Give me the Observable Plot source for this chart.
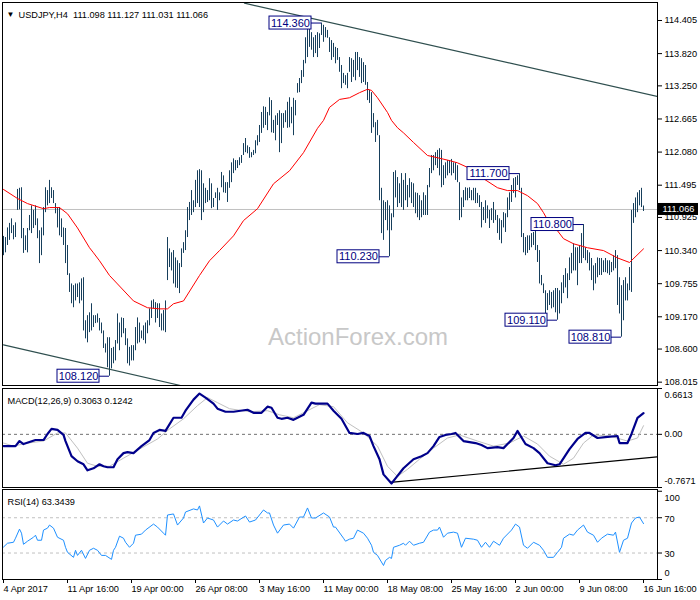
<!DOCTYPE html>
<html><head><meta charset="utf-8">
<script src="https://cdn.jsdelivr.net/npm/d3@7"></script>
<script src="https://cdn.jsdelivr.net/npm/@observablehq/plot@0.6"></script>
<style>
html,body{margin:0;padding:0;background:#fff;}
#chart{width:700px;height:600px;display:flex;flex-direction:column;overflow:hidden;}
#chart svg{display:block;flex:none;}
</style></head><body><div id="chart"></div>
<script>
// ---- data ----
const dateLabels = ["4 Apr 2017","11 Apr 16:00","19 Apr 00:00","26 Apr 08:00","3 May 16:00","11 May 00:00","18 May 08:00","25 May 16:00","2 Jun 00:00","9 Jun 08:00","16 Jun 16:00"];
const dateTickIdx = [0,32,64,96,128,160,192,224,256,288,320];
const priceTicks = [114.405,113.820,113.250,112.665,112.080,111.495,110.925,110.340,109.755,109.170,108.600,108.015];
const macdTicks = [0.6613,0,-0.7671];
const rsiTicks = [100,70,30,0];

const hi = [110.59,110.57,110.74,110.82,110.90,110.78,110.83,111.42,111.44,111.45,
110.73,110.60,110.73,110.96,111.13,111.05,111.13,110.90,110.69,110.74,
111.10,111.45,111.40,111.58,111.45,111.40,111.17,111.10,111.10,110.90,
110.74,110.73,110.43,109.93,109.75,109.72,109.75,109.75,109.77,109.84,
109.86,109.10,109.19,109.24,109.40,109.19,109.19,109.22,109.14,109.06,
108.92,108.69,108.80,108.80,108.61,108.63,108.75,109.22,109.06,109.15,
109.14,108.96,108.78,108.63,108.66,108.66,108.98,109.15,109.06,108.92,
109.01,109.06,109.10,109.31,109.45,109.47,109.42,109.40,109.40,109.22,
109.28,109.45,110.57,110.37,110.30,110.34,110.21,110.16,110.11,110.37,
110.48,110.69,111.10,111.19,111.40,111.22,111.58,111.75,111.77,111.75,
111.52,111.44,111.40,111.61,111.52,111.26,111.36,111.44,111.36,111.72,
111.66,111.54,111.54,111.75,111.89,111.96,111.93,111.93,111.98,112.02,
112.23,112.32,112.19,112.16,112.07,112.11,112.28,112.37,112.55,112.78,
112.88,112.87,112.78,113.04,112.99,112.64,112.72,112.76,112.81,112.76,
112.76,112.81,112.96,113.04,112.87,113.03,112.99,113.29,113.38,113.52,
113.70,114.10,114.32,114.32,114.19,114.10,114.14,114.19,114.17,114.36,
114.32,114.28,114.23,114.10,114.05,114.00,113.93,113.91,113.75,113.61,
113.47,113.43,113.47,113.75,113.73,113.70,113.84,113.84,113.75,113.73,
113.66,113.61,113.31,113.17,113.13,112.76,112.60,112.64,112.37,111.44,
111.22,111.19,111.22,111.13,110.99,111.72,111.75,111.63,111.52,111.70,
111.58,111.70,111.49,111.61,111.54,111.52,111.36,111.35,111.31,111.22,
111.36,111.31,111.49,111.79,112.02,112.02,112.07,112.11,112.14,112.11,
111.84,111.89,111.93,111.93,111.95,111.89,111.89,111.84,111.54,111.27,
111.40,111.45,111.44,111.45,111.40,111.44,111.44,111.35,111.31,111.19,
111.10,111.22,111.13,111.05,111.08,111.19,111.05,110.96,110.90,110.87,
111.01,110.99,111.27,111.36,111.49,111.61,111.63,111.66,111.70,111.44,
110.64,110.57,110.60,110.60,110.64,110.66,110.69,110.43,110.34,109.90,
109.75,109.63,109.58,109.63,109.60,109.63,109.67,109.67,109.63,109.77,
109.90,110.02,109.93,110.21,110.29,110.46,110.39,110.39,110.43,110.64,
110.80,110.39,110.34,110.30,110.20,110.07,110.11,110.21,110.20,110.20,
110.16,110.20,110.16,110.16,110.13,110.25,110.34,110.25,109.86,109.72,
109.81,109.86,109.75,110.04,111.05,111.17,111.27,111.36,111.40,111.44,
111.127];
const lo = [110.25,110.30,110.43,110.52,110.64,110.53,110.57,111.05,111.06,110.55,
110.29,110.34,110.30,110.69,110.64,110.73,110.78,110.55,110.11,110.25,
110.60,111.01,111.13,111.17,111.26,111.17,110.99,110.74,110.60,110.57,
110.43,110.11,109.90,109.60,109.40,109.33,109.45,109.51,109.40,109.45,
108.92,108.78,108.71,108.89,108.92,108.98,109.05,109.06,108.92,108.87,
108.61,108.53,108.27,108.12,108.25,108.34,108.39,108.69,108.57,108.80,
108.87,108.66,108.34,108.30,108.39,108.39,108.57,108.69,108.71,108.78,
108.75,108.69,108.87,109.01,109.14,109.31,109.06,109.14,108.98,108.92,
108.92,108.89,109.81,110.04,109.98,109.75,109.68,109.67,109.58,110.04,
110.29,110.34,110.57,110.87,110.96,111.01,111.10,111.17,111.10,110.87,
111.01,111.17,111.19,111.22,111.08,111.10,111.26,111.05,111.22,111.45,
111.36,111.35,111.19,111.44,111.54,111.70,111.75,111.79,111.84,111.88,
112.02,112.07,112.05,111.97,111.98,112.02,112.05,112.19,112.25,112.41,
112.50,112.55,112.46,112.72,112.42,112.41,112.28,112.55,112.07,112.23,
112.50,112.60,112.50,112.51,112.58,112.37,112.72,113.12,113.13,113.29,
113.40,113.64,113.75,113.93,113.88,113.75,113.82,113.75,113.91,114.14,
114.02,114.10,114.09,113.84,113.70,113.75,113.64,113.70,113.49,113.20,
113.29,113.26,113.20,113.49,113.31,113.40,113.34,113.52,113.40,113.29,
113.31,113.26,112.99,112.94,112.41,112.51,112.25,112.37,111.22,110.64,
110.52,110.87,110.69,110.23,110.69,110.92,111.27,111.10,111.17,111.10,
111.05,111.22,111.10,111.27,111.17,111.10,110.99,110.92,110.87,110.92,
110.96,110.96,110.96,111.45,111.70,111.75,111.84,111.79,111.66,111.45,
111.49,111.61,111.66,111.70,111.66,111.70,111.58,111.54,110.87,110.92,
111.10,111.22,111.22,111.26,111.22,111.22,111.17,111.17,111.10,110.74,
110.87,110.82,110.90,110.73,110.87,110.82,110.87,110.64,110.52,110.46,
110.74,110.66,110.92,111.05,111.19,111.35,111.27,111.49,111.40,110.57,
110.30,110.25,110.29,110.34,110.39,110.43,110.34,110.13,109.75,109.72,
109.58,109.22,109.28,109.37,109.31,109.33,109.24,109.11,109.22,109.40,
109.58,109.68,109.49,109.81,109.93,109.98,109.98,109.72,110.11,110.11,
110.20,110.16,110.11,109.98,109.81,109.63,109.75,109.86,109.90,109.90,
109.95,109.95,109.93,109.90,109.95,109.98,110.02,109.37,109.22,108.81,
109.10,109.45,109.45,109.63,109.60,110.82,110.92,111.01,111.13,111.10,
111.031];

const maIdx = [0,7,12,20,23,28,32,37,43,45,48,53,57,65,72,78,82,85,90,98,103,108,115,120,127,135,143,150,157,160,163,168,173,178,182,184,187,192,194,197,200,205,212,217,223,227,232,240,247,252,257,262,267,270,273,277,280,285,292,300,307,313,320];
const maVal = [111.42,111.26,111.17,111.08,111.10,111.10,110.99,110.74,110.39,110.30,110.16,109.90,109.75,109.45,109.33,109.31,109.31,109.40,109.45,109.90,110.16,110.34,110.60,110.87,111.08,111.52,111.75,112.07,112.50,112.64,112.87,113.01,113.04,113.13,113.19,113.17,113.04,112.78,112.64,112.51,112.42,112.25,112.02,111.98,111.93,111.89,111.81,111.61,111.45,111.40,111.40,111.31,111.17,111.01,110.82,110.69,110.55,110.46,110.39,110.34,110.21,110.13,110.37];

const macdIdx = [0,6,8,10,13,16,20,22,24,27,30,31,34,37,40,42,45,48,50,52,55,57,60,62,65,69,73,75,78,81,85,89,91,95,98,101,105,107,111,115,122,125,129,132,134,137,139,142,145,150,154,156,162,165,169,173,177,180,183,185,188,190,194,196,200,205,209,212,215,218,221,224,226,230,236,239,242,247,250,255,257,261,265,268,272,276,278,283,287,291,293,297,302,307,308,312,314,317,320];
const macdVal = [-0.170,-0.170,-0.097,-0.140,-0.111,-0.082,-0.082,0.005,0.078,0.064,-0.009,-0.097,-0.315,-0.388,-0.432,-0.519,-0.490,-0.432,-0.461,-0.475,-0.475,-0.359,-0.271,-0.257,-0.271,-0.170,-0.082,0.020,0.064,0.049,0.239,0.239,0.341,0.501,0.588,0.530,0.443,0.370,0.326,0.326,0.355,0.311,0.311,0.399,0.384,0.239,0.224,0.239,0.209,0.282,0.457,0.443,0.443,0.341,0.224,0.020,0.005,0.020,-0.024,-0.170,-0.359,-0.578,-0.709,-0.636,-0.490,-0.359,-0.315,-0.271,-0.170,-0.038,-0.009,0.005,0.020,-0.097,-0.126,-0.155,-0.199,-0.184,-0.199,-0.053,0.049,-0.140,-0.199,-0.271,-0.417,-0.446,-0.432,-0.213,-0.067,0.020,0.020,-0.053,-0.038,-0.024,-0.126,-0.126,0.005,0.239,0.3063];
const sigIdx = [0,5,12,20,27,31,37,42,47,53,60,68,77,83,90,97,102,107,113,123,132,138,145,152,158,165,172,180,187,192,197,202,208,215,222,228,237,245,253,260,267,273,280,285,290,295,303,312,317,320];
const sigVal = [-0.126,-0.170,-0.126,-0.097,0.020,0.020,-0.199,-0.417,-0.461,-0.461,-0.344,-0.213,-0.067,0.078,0.224,0.414,0.530,0.457,0.370,0.326,0.341,0.282,0.239,0.341,0.428,0.399,0.166,0.020,-0.170,-0.461,-0.607,-0.505,-0.359,-0.199,-0.053,-0.009,-0.097,-0.170,-0.126,-0.024,-0.140,-0.315,-0.432,-0.344,-0.126,-0.009,-0.024,-0.097,-0.053,0.1242];

const rsiIdx = [0,2,5,6,8,9,10,12,15,16,17,19,20,22,23,25,27,30,31,32,35,36,37,39,41,43,45,47,49,51,54,55,56,58,60,61,63,65,66,69,71,75,77,80,81,82,85,87,90,91,95,97,98,100,102,105,107,110,112,115,117,121,123,126,130,132,133,135,137,140,143,145,148,150,152,154,156,160,163,165,166,170,171,173,175,177,180,182,184,185,187,190,191,193,194,195,198,200,201,203,205,208,210,213,215,217,218,220,222,225,227,229,231,235,237,239,241,243,245,248,250,254,256,258,260,262,265,268,270,272,275,277,279,280,283,285,287,290,292,295,297,299,302,305,306,308,310,312,314,316,318,320];
const rsiVal = [36.8,41.1,42.2,46.8,57.1,52.5,39.9,43.4,47.9,50.2,44.5,44.5,56.0,58.2,61.7,58.2,47.9,44.5,36.5,30.8,25.1,33.1,27.3,33.1,23.9,33.1,35.4,33.1,27.3,27.3,22.8,33.1,36.5,49.1,46.8,42.2,36.5,41.1,50.2,51.4,56.0,62.8,59.4,52.5,50.2,73.1,74.3,61.7,69.7,76.5,80.0,78.8,83.4,64.0,69.7,67.4,59.4,66.3,62.8,67.4,66.3,72.0,65.1,67.4,78.8,75.4,75.4,61.7,52.5,61.7,62.8,58.2,70.8,70.8,81.1,69.7,69.7,75.4,70.8,59.4,59.4,46.8,43.4,45.7,46.8,56.0,52.5,46.8,38.8,30.8,27.3,15.9,21.6,25.1,23.9,36.5,38.8,41.1,38.8,43.4,38.8,41.1,42.2,53.7,56.0,56.0,59.4,47.9,52.5,53.7,52.5,36.5,46.8,45.7,44.5,36.5,42.2,36.5,43.4,38.8,46.8,56.0,62.8,59.4,38.8,35.4,42.2,38.8,33.1,25.1,25.1,30.8,36.5,46.8,51.4,50.2,56.0,61.7,53.7,50.2,42.2,46.8,51.4,50.2,53.7,30.8,44.5,46.8,64.0,69.7,70.8,63.3439];

const pivotIdx = [159,53,193,258,290,277,309];
const pivotPrice = [114.360,108.120,110.230,111.700,110.800,109.110,108.810];
const upperTrendIdx = [120.5,327], upperTrendPrice = [114.711,113.062];
const lowerTrendIdx = [0,88.5], lowerTrendPrice = [108.675,107.956];
const macdTrendIdx = [193.5,327], macdTrendVal = [-0.694,-0.325];
const lastPrice = 111.066;
const titleText = "USDJPY,H4  111.098 111.127 111.031 111.066";
const macdTitle = "MACD(12,26,9) 0.3063 0.1242";
const rsiTitle = "RSI(14) 63.3439";

// ---- build ----
const FONT = "'Liberation Sans', Arial, Helvetica, sans-serif";
const BAR = "#173f5c";
const NAVY = "#000080";
const baseStyle = {fontFamily: FONT, fontSize: "9.2px", background: "white", color: "#000"};
const xCfg = {domain: [-0.5, 327], axis: null};
const common = {width: 700, marginLeft: 2, marginRight: 43, style: baseStyle};

const bars = hi.map((h, i) => ({i, hi: h, lo: lo[i]}));
const ma = maIdx.map((i, k) => ({i, v: maVal[k]}));
const macd = macdIdx.map((i, k) => ({i, v: macdVal[k]}));
const sig = sigIdx.map((i, k) => ({i, v: sigVal[k]}));
const rsi = rsiIdx.map((i, k) => ({i, v: rsiVal[k]}));
const pivots = pivotIdx.map((i, k) => ({i, p: pivotPrice[k]}));
const upper = upperTrendIdx.map((i, k) => ({i, p: upperTrendPrice[k]}));
const lower = lowerTrendIdx.map((i, k) => ({i, p: lowerTrendPrice[k]}));
const macdTrend = macdTrendIdx.map((i, k) => ({i, v: macdTrendVal[k]}));
const lastIdx = hi.length - 1;

const main = Plot.plot({
  ...common, height: 387, marginTop: 2, marginBottom: 2,
  x: xCfg,
  y: {domain: [107.956, 114.723], label: null},
  marks: [
    Plot.text(["ActionForex.com"], {frameAnchor: "bottom", dx: 28, dy: -41, fontSize: 24, fill: "#c8c8c8"}),
    Plot.ruleY([lastPrice], {stroke: "#c0c0c0"}),
    Plot.ruleX(bars, {x: "i", y1: "lo", y2: "hi", stroke: BAR, strokeWidth: 1}),
    Plot.line(ma, {x: "i", y: "v", stroke: "#ff0000", strokeWidth: 1}),
    Plot.line(upper, {x: "i", y: "p", stroke: "#2f4f4f", strokeWidth: 1.2, clip: true}),
    Plot.line(lower, {x: "i", y: "p", stroke: "#2f4f4f", strokeWidth: 1.2, clip: true}),
    Plot.ruleY(pivots, {y: "p", x1: "i", x2: "i", insetLeft: -10, stroke: NAVY}),
    Plot.rect(pivots, {x1: "i", x2: "i", y1: "p", y2: "p", insetLeft: -52, insetRight: 10, insetTop: -6.5, insetBottom: -6.5, fill: "white", stroke: NAVY}),
    Plot.text(pivots, {x: "i", y: "p", dx: -31, text: d => d.p.toFixed(3), fill: NAVY, fontSize: 11}),
    Plot.frame({stroke: "#000"}),
    Plot.axisY({ticks: priceTicks, anchor: "right", label: null, tickSize: 4, tickPadding: 3, tickFormat: d3.format(".3f")}),
    Plot.rect([lastPrice], {x1: () => lastIdx, x2: () => lastIdx, y1: d => d, y2: d => d, insetLeft: 15, insetRight: -55, insetTop: -6, insetBottom: -6, fill: "#000"}),
    Plot.text([lastPrice], {x: () => lastIdx, y: d => d, dx: 35, text: d => d.toFixed(3), fill: "#fff"}),
    Plot.text(["▼"], {frameAnchor: "top-left", dx: 4, dy: 9, fontSize: 8, fill: "#000"}),
    Plot.text([titleText], {frameAnchor: "top-left", dx: 16, dy: 9, fill: "#000"})
  ]
});

const macdPlot = Plot.plot({
  ...common, height: 101, marginTop: 1, marginBottom: 1,
  x: xCfg,
  y: {domain: [-0.7671, 0.6613], label: null},
  marks: [
    Plot.ruleY([0], {stroke: "#707070", strokeDasharray: "3,3"}),
    Plot.line(macdTrend, {x: "i", y: "v", stroke: "#000", strokeWidth: 1.2, clip: true}),
    Plot.line(sig, {x: "i", y: "v", stroke: "#c0c0c0", strokeWidth: 1}),
    Plot.line(macd, {x: "i", y: "v", stroke: "#00008b", strokeWidth: 2.2}),
    Plot.frame({stroke: "#000"}),
    Plot.axisY({ticks: macdTicks, anchor: "right", label: null, tickSize: 4, tickFormat: () => ""}),
    Plot.text([macdTicks[0]], {y: d => d, frameAnchor: "right", textAnchor: "start", dx: 7, dy: 7, text: d => d.toFixed(4), fill: "#000"}),
    Plot.text([macdTicks[1]], {y: d => d, frameAnchor: "right", textAnchor: "start", dx: 7, dy: 0, text: d => d.toFixed(2), fill: "#000"}),
    Plot.text([macdTicks[2]], {y: d => d, frameAnchor: "right", textAnchor: "start", dx: 7, dy: -6, text: d => d.toFixed(4), fill: "#000"}),
    Plot.text([macdTitle], {frameAnchor: "top-left", dx: 5, dy: 9, fill: "#000"})
  ]
});

const rsiPlot = Plot.plot({
  ...common, height: 112, marginTop: 1, marginBottom: 21,
  x: {domain: [-0.5, 327], label: null},
  y: {domain: [0, 102], label: null},
  marks: [
    Plot.ruleY([70, 30], {stroke: "#c0c0c0", strokeDasharray: "3,3"}),
    Plot.line(rsi, {x: "i", y: "v", stroke: "#1e90ff", strokeWidth: 1}),
    Plot.frame({stroke: "#000"}),
    Plot.axisY({ticks: rsiTicks, anchor: "right", label: null, tickSize: 4, tickFormat: () => ""}),
    Plot.text([rsiTicks[0]], {y: d => d, frameAnchor: "right", textAnchor: "start", dx: 7, dy: 7, text: d => String(d), fill: "#000"}),
    Plot.text([rsiTicks[1], rsiTicks[2]], {y: d => d, frameAnchor: "right", textAnchor: "start", dx: 7, dy: 1, text: d => String(d), fill: "#000"}),
    Plot.text([rsiTicks[3]], {y: d => d, frameAnchor: "right", textAnchor: "start", dx: 7, dy: -6, text: d => String(d), fill: "#000"}),
    Plot.axisX({ticks: dateTickIdx, anchor: "bottom", label: null, tickSize: 4, tickPadding: 2, textAnchor: "start", tickFormat: i => dateLabels[dateTickIdx.indexOf(i)], fill: "#000"}),
    Plot.text([rsiTitle], {frameAnchor: "top-left", dx: 5, dy: 9, fill: "#000"})
  ]
});

const root = document.getElementById("chart");
root.append(main, macdPlot, rsiPlot);
</script>
</body></html>
